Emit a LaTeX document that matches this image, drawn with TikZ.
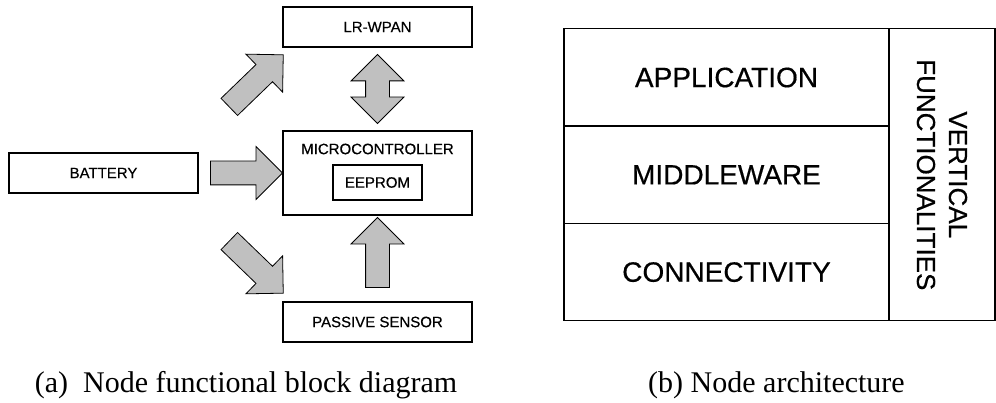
\documentclass[tikz,border=0pt]{standalone}
\usepackage{fontspec}
\setmainfont{Liberation Serif}
\setsansfont{Liberation Sans}
\newfontfamily\labelfont[FakeBold=0.5]{Liberation Sans}
\usepackage{tikz}
\usetikzlibrary{positioning}
\usetikzlibrary{calc}
\usetikzlibrary{shapes.arrows}

\definecolor{arrowgray}{RGB}{192,192,192}

\begin{document}
\begin{tikzpicture}[x=1pt, y=1pt,
    block/.style={draw, line width=1.3pt, outer sep=0pt, inner sep=0pt,
      minimum width=189pt, minimum height=40pt,
      font=\labelfont\fontsize{15}{18}\selectfont},
    layer/.style={draw, line width=1.3pt, outer sep=0pt, inner sep=0pt,
      minimum width=325pt, minimum height=97.3pt,
      font=\labelfont\fontsize{28}{32}\selectfont},
    fatarrow/.style={single arrow, draw, fill=arrowgray, line width=0.8pt,
      outer sep=0pt, inner sep=0pt, inner ysep=11.5pt,
      single arrow head extend=14.5pt, minimum height=#1},
    fatboth/.style={double arrow, draw, fill=arrowgray, line width=0.8pt,
      outer sep=0pt, inner sep=0pt, inner ysep=11.5pt,
      double arrow head extend=14.5pt, minimum height=#1},
    caption/.style={anchor=base, font=\fontsize{30}{34}\selectfont}]
  \useasboundingbox (0,0) rectangle (996,403);

  % (a) functional blocks
  \node[block, minimum height=84pt] (mcu) at (377.5,230) {};
  \node[font=\labelfont\fontsize{15}{18}\selectfont] (mcutext) at ($(mcu.north)+(0,-18)$) {MICROCONTROLLER};
  \node[block, minimum width=89pt, minimum height=35pt, below=34pt of mcu.north] (eeprom) {EEPROM};
  \node[block, above=84pt of mcu] (lrwpan) {LR-WPAN};
  \node[block, below=87pt of mcu] (sensor) {PASSIVE SENSOR};
  \node[block, left=85pt of mcu] (battery) {BATTERY};

  \node[fatarrow=72pt] (batmcu) at ($(battery.east)!0.5!(mcu.west)$) {};
  \node[fatarrow=75pt, rotate=44] (batradio) at ($(lrwpan.south west)+(-31,-38)$) {};
  \node[fatarrow=75pt, rotate=-44] (batsensor) at ($(sensor.north west)+(-31,39)$) {};
  \node[fatboth=69pt, rotate=90] (radiomcu) at ($(lrwpan.south)!0.5!(mcu.north)$) {};
  \node[fatarrow=70pt, rotate=90] (sensormcu) at ($(sensor.north)!0.5!(mcu.south)$) {};

  \node[caption] (capa) at (246,10) {(a)\hspace{0.5em}Node functional block diagram};

  % (b) layered architecture
  \node[layer] (app) at (726.5,325.5) {APPLICATION};
  \node[layer, below=0pt of app] (mid) {MIDDLEWARE};
  \node[layer, below=0pt of mid] (conn) {CONNECTIVITY};
  \node[layer, minimum width=106pt, minimum height=291.9pt, right=0pt of mid] (vert) {};
  \node[rotate=-90, align=center, font=\labelfont\fontsize{26}{32}\selectfont] (verttext)
    at (vert.center) {VERTICAL\\FUNCTIONALITIES};

  \node[caption] (capb) at (776.5,10) {(b) Node architecture};
\end{tikzpicture}
\end{document}
